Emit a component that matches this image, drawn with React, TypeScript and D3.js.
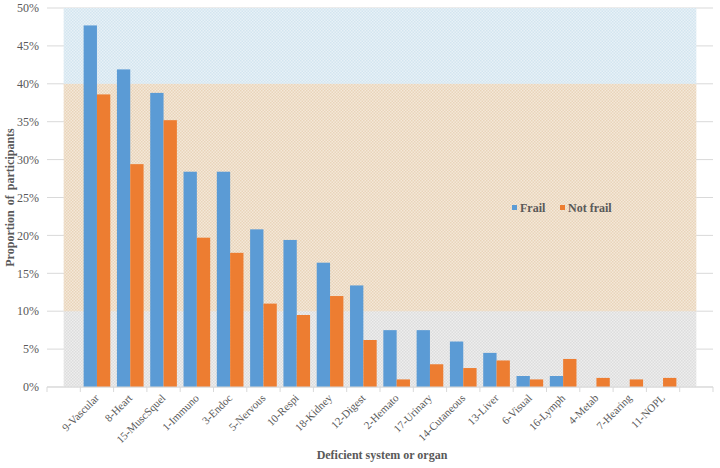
import React from 'react';
import * as d3 from 'd3';

const categories = [
  '9-Vascular', '8-Heart', '15-MuscSquel', '1-Immuno', '3-Endoc', '5-Nervous',
  '10-Respi', '18-Kidney', '12-Digest', '2-Hemato', '17-Urinary', '14-Cutaneous',
  '13-Liver', '6-Visual', '16-Lymph', '4-Metab', '7-Hearing', '11-NOPL',
];
const frail = [47.7, 41.9, 38.8, 28.4, 28.4, 20.8, 19.4, 16.4, 13.4, 7.5, 7.5, 6.0, 4.5, 1.45, 1.45, 0, 0, 0];
const notFrail = [38.6, 29.4, 35.2, 19.7, 17.7, 11.0, 9.5, 12.0, 6.2, 1.0, 3.0, 2.5, 3.5, 1.0, 3.7, 1.2, 1.0, 1.2];
const seriesNames = ['Frail', 'Not frail'];
const yTicks = [0, 5, 10, 15, 20, 25, 30, 35, 40, 45, 50];
// background zones (stacked area): lower / middle / upper bounds in %
const zoneBounds = [0, 10, 40, 50];

const W = 720;
const H = 468;
const margin = { left: 47, right: 7, top: 8, bottom: 81 };
const colors = ['#5b9bd5', '#ed7d31'];
const zoneFill = ['url(#dotGray)', 'url(#dotTan)', 'url(#dotBlue)'];
const textColor = '#595959';
const font = '"Liberation Serif", "Times New Roman", serif';

const App = () => {
  const slots = ['__start', ...categories, '__end'];
  const x0 = d3.scaleBand().domain(slots).range([margin.left, W - margin.right]);
  const step = x0.step();
  const x1 = d3.scaleBand().domain(seriesNames).range([0, step]).paddingOuter(0.25);
  const y = d3.scaleLinear().domain([0, 50]).range([H - margin.bottom, margin.top]);
  const y0 = y(0);

  const zones = zoneBounds.slice(0, -1).map((lo, i) => {
    const hi = zoneBounds[i + 1];
    const area = d3
      .area<string>()
      .x((d) => (x0(d) as number) + step / 2)
      .y0(() => y(lo))
      .y1(() => y(hi));
    return area(slots) as string;
  });

  const values = [frail, notFrail];
  const tickXs = d3.range(slots.length + 1).map((i) => margin.left + i * step);

  return (
    <svg width={W} height={H} style={{ position: 'absolute', left: 0, top: 0, background: '#fff' }}>
      <defs>
        <pattern id="dotBlue" width="3" height="3" patternUnits="userSpaceOnUse">
          <rect width="3" height="3" fill="#e8f1f7" />
          <rect width="1.5" height="1.5" fill="#d3e5ef" />
          <rect x="1.5" y="1.5" width="1.5" height="1.5" fill="#d3e5ef" />
        </pattern>
        <pattern id="dotTan" width="3" height="3" patternUnits="userSpaceOnUse">
          <rect width="3" height="3" fill="#f4e8d9" />
          <rect width="1.5" height="1.5" fill="#e9d4ba" />
          <rect x="1.5" y="1.5" width="1.5" height="1.5" fill="#e9d4ba" />
        </pattern>
        <pattern id="dotGray" width="3" height="3" patternUnits="userSpaceOnUse">
          <rect width="3" height="3" fill="#eeeeee" />
          <rect width="1.5" height="1.5" fill="#dddddd" />
          <rect x="1.5" y="1.5" width="1.5" height="1.5" fill="#dddddd" />
        </pattern>
      </defs>

      {/* gridlines */}
      {yTicks.map((t) => (
        <line key={t} x1={margin.left} x2={W - margin.right} y1={y(t)} y2={y(t)} stroke="#d9d9d9" strokeWidth={1} />
      ))}

      {/* background zones */}
      {zones.map((d, i) => (
        <path key={i} d={d} fill={zoneFill[i]} />
      ))}

      {/* bars */}
      {categories.map((c, i) => (
        <g key={c} transform={`translate(${x0(c)},0)`}>
          {seriesNames.map((s, j) => {
            const v = values[j][i];
            if (!v) return null;
            return (
              <rect
                key={s}
                x={x1(s)}
                y={y(v)}
                width={x1.bandwidth()}
                height={y0 - y(v)}
                fill={colors[j]}
              />
            );
          })}
        </g>
      ))}

      {/* x axis */}
      <line x1={margin.left} x2={W - margin.right} y1={y0} y2={y0} stroke="#d9d9d9" />
      {tickXs.map((tx, i) => (
        <line key={i} x1={tx} x2={tx} y1={y0} y2={y0 + 5} stroke="#d9d9d9" />
      ))}
      {categories.map((c) => {
        const cx = (x0(c) as number) + step / 2;
        const cy = y0 + 9;
        return (
          <text
            key={c}
            transform={`translate(${cx},${cy}) rotate(-45)`}
            textAnchor="end"
            fontFamily={font}
            fontSize={11}
            fill={textColor}
            dy="0.35em"
          >
            {c}
          </text>
        );
      })}

      {/* y axis labels */}
      {yTicks.map((t) => (
        <text
          key={t}
          x={margin.left - 8}
          y={y(t)}
          dy="0.35em"
          textAnchor="end"
          fontFamily={font}
          fontSize={12}
          fill={textColor}
        >
          {`${t}%`}
        </text>
      ))}

      {/* axis titles */}
      <text
        transform={`translate(10,${(margin.top + y0) / 2}) rotate(-90)`}
        textAnchor="middle"
        dy="0.35em"
        fontFamily={font}
        fontSize={12}
        fontWeight="bold"
        fill={textColor}
        wordSpacing={2}
      >
        Proportion of participants
      </text>
      <text
        x={(margin.left + W - margin.right) / 2 + 2}
        y={459}
        textAnchor="middle"
        fontFamily={font}
        fontSize={12}
        fontWeight="bold"
        fill={textColor}
      >
        Deficient system or organ
      </text>

      {/* legend */}
      <g fontFamily={font} fontSize={12} fontWeight="bold" fill={textColor}>
        <rect x={512} y={205} width={5} height={5} fill={colors[0]} />
        <text x={520} y={212}>{seriesNames[0]}</text>
        <rect x={560} y={205} width={5} height={5} fill={colors[1]} />
        <text x={568} y={212}>{seriesNames[1]}</text>
      </g>
    </svg>
  );
};

export default App;
